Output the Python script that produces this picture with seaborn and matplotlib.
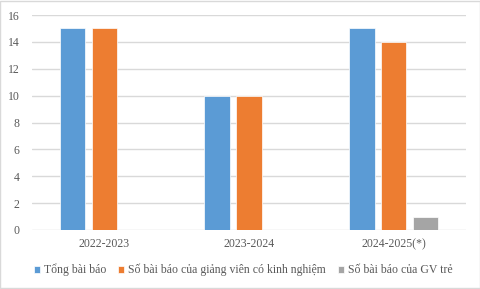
import matplotlib
matplotlib.use("Agg")
import matplotlib.pyplot as plt
import seaborn as sns
import pandas as pd

years = ["2022-2023", "2023-2024", "2024-2025(*)"]
series_names = ["Tổng bài báo", "Số bài báo của giảng viên có kinh nghiệm", "Số bài báo của GV trẻ"]
tong = [15, 10, 15]
kinh_nghiem = [15, 10, 14]
gv_tre = [0, 0, 1]
colors = ["#5B9BD5", "#ED7D31", "#A5A5A5"]

rows = []
for name, vals in zip(series_names, [tong, kinh_nghiem, gv_tre]):
    for y, v in zip(years, vals):
        rows.append({"year": y, "series": name, "value": v})
df = pd.DataFrame(rows)

sns.set_theme(style="white")
plt.rcParams["font.family"] = ["Liberation Serif", "DejaVu Serif"]

fig = plt.figure(figsize=(4.81, 2.89), dpi=100)
ax = fig.add_axes([32/481, 59/289, 434/481, 215/289])
sns.barplot(data=df, x="year", y="value", hue="series", hue_order=series_names,
            order=years, palette=colors, width=0.66, gap=0.2, ax=ax,
            edgecolor="white", linewidth=0.5, saturation=1, errorbar=None, legend=True)

ax.set_xlim(-0.5, 2.5)
ax.set_ylim(0, 16)
ax.set_yticks(range(0, 17, 2))
ax.yaxis.grid(True, color="#D9D9D9", linewidth=1)
ax.set_axisbelow(True)
for s in ax.spines.values():
    s.set_visible(False)
ax.set_xlabel("")
ax.set_ylabel("")
ax.tick_params(axis="y", length=0, pad=9, labelsize=8.5, colors="#595959")
ax.tick_params(axis="x", length=0, pad=6, labelsize=8.5, colors="#595959")

handles, labels = ax.get_legend_handles_labels()
ax.get_legend().remove()
fig.legend(handles, labels, loc="center", bbox_to_anchor=(243/481, 1 - 270/289), ncol=3,
           frameon=False, fontsize=8.5, handlelength=0.55, handleheight=0.55,
           handletextpad=0.3, columnspacing=1.0, labelcolor="#595959")

fig.patches.append(plt.Rectangle((0.001, 0.002), 0.997, 0.995, transform=fig.transFigure,
                                 fill=False, edgecolor="#D9D9D9", linewidth=1))
fig.savefig("out.png", dpi=100, facecolor="white")
